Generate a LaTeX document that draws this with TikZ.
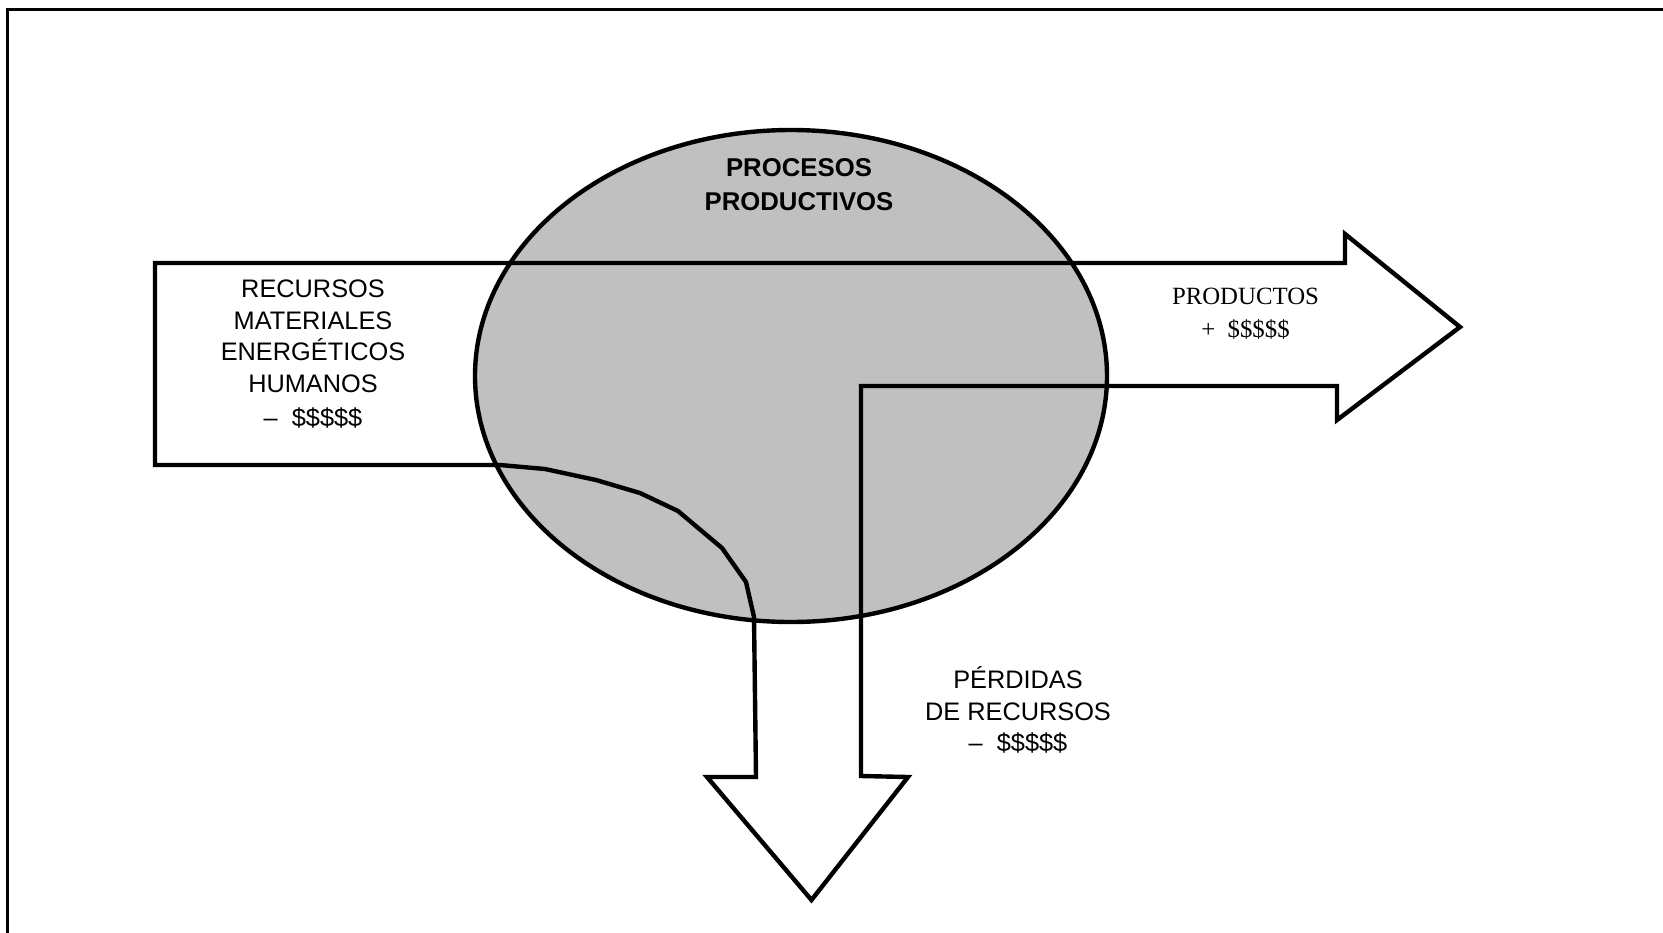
\documentclass[tikz,border=0pt]{standalone}
\usepackage{fontspec}
\setmainfont{Liberation Sans}
\newfontfamily\timesfont{Liberation Serif}
\definecolor{procgray}{RGB}{192,192,192}
\begin{document}
\begin{tikzpicture}[x=0.75pt,y=-0.75pt,
  outline/.style={line width=3.3pt, line join=miter, miter limit=10},
  frameline/.style={line width=2pt},
  sanslabel/.style={align=center, inner sep=0pt, font=\fontsize{19}{23.6}\selectfont},
  boldlabel/.style={align=center, inner sep=0pt, font=\fontsize{19.3}{25.5}\selectfont\bfseries},
  seriflabel/.style={align=center, inner sep=0pt, font=\fontsize{18.6}{24.75}\selectfont\timesfont},
]
\useasboundingbox (0,0) rectangle (1663,932);
\fill[white] (0,0) rectangle (1663,932);
\clip (0,0) rectangle (1663,932);
% outer frame (cut off at right and bottom)
\draw[frameline] (7.5,945) -- (7.5,9.5) -- (1680,9.5);
% process ellipse
\draw[line width=3.3pt, fill=procgray] (791,376) ellipse [x radius=237pt, y radius=184.5pt];
% flow outline: inputs -> products, losses
\draw[outline]
  (155,263) -- (1345,263) -- (1345,234) -- (1460,327) -- (1337,420) -- (1337,386)
  -- (861,386) -- (861,776) -- (908,777) -- (811.5,900) -- (707,777) -- (756,777)
  -- (754,617) -- (746,582) -- (722,548) -- (678,511) -- (640,493) -- (596,480)
  -- (545,469) -- (500,465) -- (155,465) -- cycle;
% labels
\node[boldlabel] (proc) at (799,184.5) {PROCESOS\\PRODUCTIVOS};
\node[sanslabel] (recursos) at (313,354) {RECURSOS\\MATERIALES\\ENERGÉTICOS\\HUMANOS\\[2pt]–\ \ \$\$\$\$\$};
\node[seriflabel] (productos) at (1245.5,314) {PRODUCTOS\\+\ \ \$\$\$\$\$};
\node[sanslabel] (perdidas) at (1018,710) {PÉRDIDAS\\DE RECURSOS\\–\ \ \$\$\$\$\$};
\end{tikzpicture}
\end{document}
